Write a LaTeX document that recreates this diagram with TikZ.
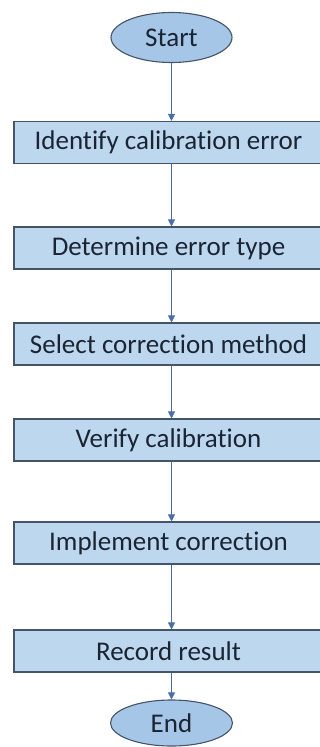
\documentclass[tikz,border=0pt]{standalone}
\usepackage{fontspec}
\setmainfont{Carlito}[Ligatures={NoCommon,NoContextual}]
\usetikzlibrary{shapes.geometric,arrows.meta}
\definecolor{boxfill}{HTML}{BDD7EE}
\definecolor{ellfill}{HTML}{A6C6E8}
\definecolor{border}{HTML}{44546A}
\definecolor{arrowc}{HTML}{4A6EA8}
\definecolor{txt}{HTML}{1A2432}
\tikzset{
  stepbox/.style={draw=border, line width=1.1pt, fill=boxfill, minimum width=314pt, minimum height=42pt, inner sep=0pt, text=txt, font=\fontsize{27}{30}\selectfont},
  term/.style={ellipse, draw=border, line width=1.1pt, fill=ellfill, minimum width=121pt, minimum height=50pt, inner sep=0pt, text=txt, font=\fontsize{27}{30}\selectfont},
  conn/.style={draw=arrowc, line width=0.8pt, -{Triangle[length=7pt,width=7pt]}}
}
\begin{document}
\begin{tikzpicture}[x=1pt,y=-1pt]
\useasboundingbox (0,0) rectangle (320,747);
\clip (0,0) rectangle (320,747);
\node[term] (start) at (171.5,37.5) {Start};
\node[stepbox] (b1) at (171,142.5) {\hspace*{-5pt}Identify calibration error};
\node[stepbox] (b2) at (171,248) {\hspace*{-5pt}Determine error type};
\node[stepbox] (b3) at (171,344) {\hspace*{-5pt}Select correction method};
\node[stepbox] (b4) at (171,440) {\hspace*{-5pt}Verify calibration};
\node[stepbox] (b5) at (171,543) {\hspace*{-5pt}Implement correction};
\node[stepbox] (b6) at (171,651) {\hspace*{-5pt}Record result};
\node[term, minimum height=46pt, minimum width=122pt] (end) at (171.5,723) {End};
\draw[conn] (start.south) -- (b1.north -| start.south);
\draw[conn] (b1.south -| start.south) -- (b2.north -| start.south);
\draw[conn] (b2.south -| start.south) -- (b3.north -| start.south);
\draw[conn] (b3.south -| start.south) -- (b4.north -| start.south);
\draw[conn] (b4.south -| start.south) -- (b5.north -| start.south);
\draw[conn] (b5.south -| start.south) -- (b6.north -| start.south);
\draw[conn] (b6.south -| start.south) -- (end.north);
\end{tikzpicture}
\end{document}
